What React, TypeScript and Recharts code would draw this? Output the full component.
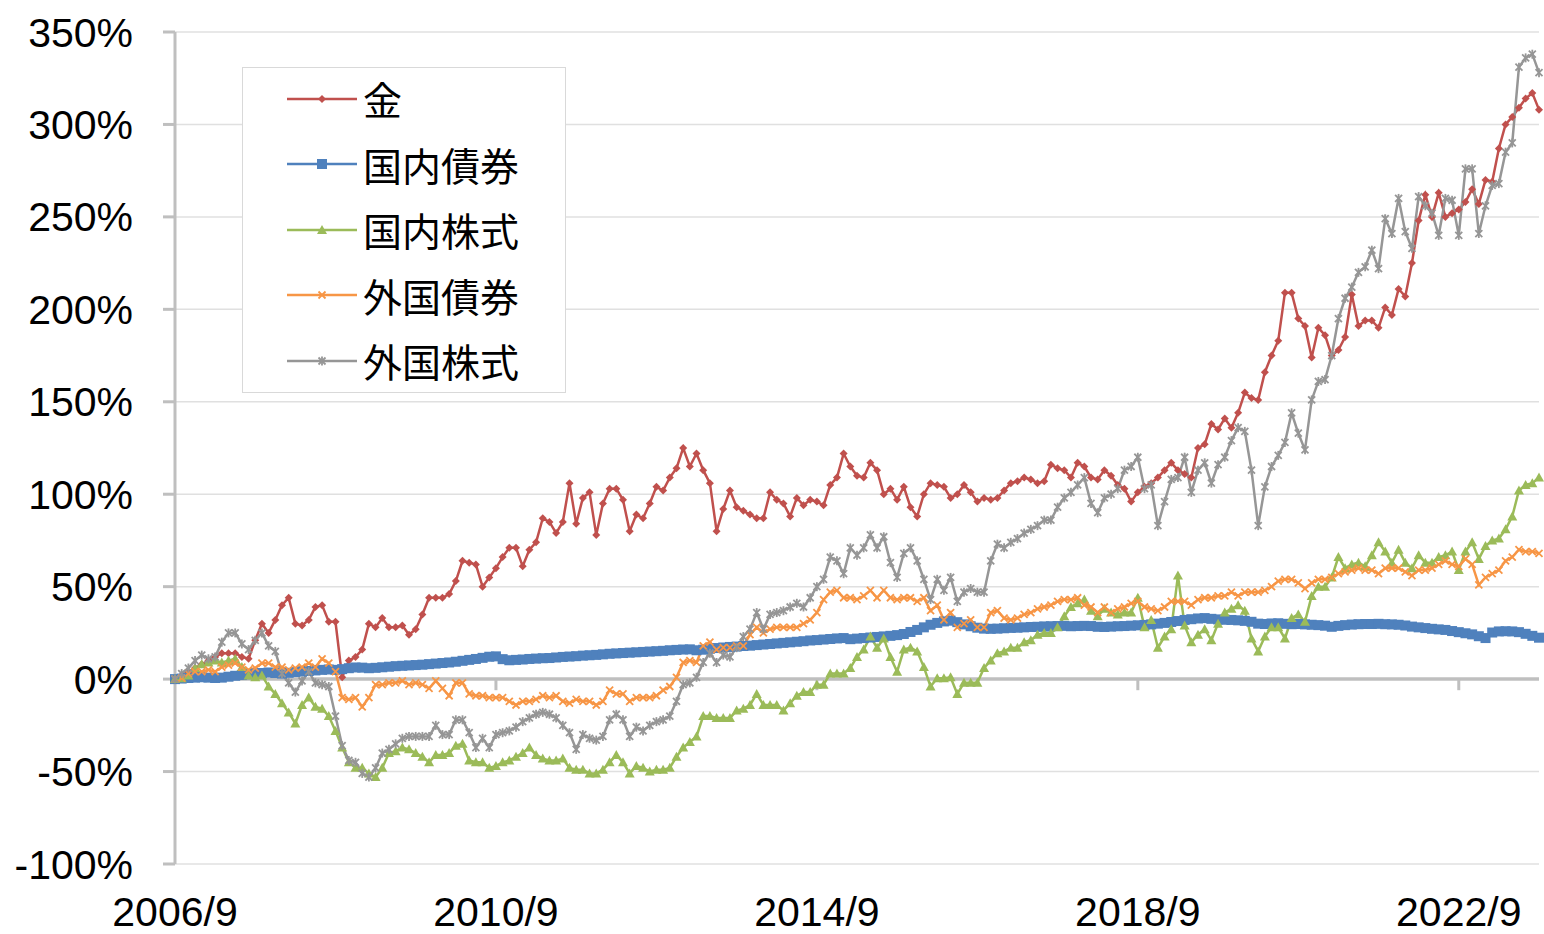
import React from "react";
import {
  LineChart,
  Line,
  XAxis,
  YAxis,
  CartesianGrid,
  ReferenceLine,
  Legend,
} from "recharts";

// monthly cumulative return (%), 2006/9 .. 2023/9, one row = Sep..Aug
const gold = [
  0, 2, 4, 6, 8, 10, 12, 14, 14, 14, 12, 11,
  21, 30, 25, 32, 40, 44, 30, 29, 32, 39, 40, 31,
  31, 1, 10, 12, 16, 30, 28, 33, 28, 28, 29, 24,
  27, 35, 44, 44, 44, 46, 53, 64, 63, 62, 50, 55,
  60, 66, 71, 71, 61, 70, 74, 87, 85, 79, 85, 106,
  84, 98, 101, 78, 95, 103, 103, 97, 80, 89, 87, 95,
  104, 102, 109, 114, 125, 115, 122, 113, 106, 80, 92, 102,
  93, 91, 89, 87, 87, 101, 97, 95, 88, 98, 94, 97,
  96, 94, 105, 109, 122, 115, 110, 109, 117, 113, 100, 103,
  97, 104, 93, 88, 100, 106, 105, 104, 98, 100, 105, 101,
  96, 98, 97, 98, 102, 106, 107, 109, 108, 106, 107, 116,
  114, 113, 109, 117, 115, 109, 108, 113, 110, 105, 103, 96,
  101, 104, 106, 109, 113, 117, 113, 111, 109, 125, 127, 138,
  135, 141, 136, 144, 155, 152, 151, 166, 175, 183, 209, 209,
  195, 191, 174, 190, 186, 175, 178, 185, 208, 191, 194, 194,
  190, 201, 197, 211, 207, 225, 248, 262, 250, 263, 250, 252,
  254, 258, 265, 257, 270, 269, 287, 300, 304, 309, 314, 317,
  308,
];

const jpBond = [
  0, 0.3, 0.6, 0.8, 1, 0.8, 0.6, 0.8, 1.3, 1.8, 2.2, 2.6,
  3, 3.3, 3.6, 3.3, 3, 3.4, 3.8, 4.1, 4.4, 4.7, 5, 5.2,
  5, 5.4, 5.9, 6.3, 6.2, 5.9, 6.1, 6.4, 6.7, 7, 7.2, 7.4,
  7.6, 7.8, 8.1, 8.4, 8.7, 9, 9.4, 9.9, 10.4, 10.9, 11.5, 12.1,
  12.3, 10.8, 10.2, 10.4, 10.6, 10.9, 11.1, 11.3, 11.4, 11.7, 12, 12.2,
  12.4, 12.7, 12.9, 13.1, 13.4, 13.7, 13.9, 14.1, 14.3, 14.5, 14.7, 14.9,
  15.1, 15.3, 15.6, 15.8, 16, 16.1, 15.6, 15.9, 16.4, 16.8, 17.1, 17.4,
  17.6, 17.9, 18.1, 18.4, 18.7, 19, 19.3, 19.6, 19.9, 20.2, 20.5, 20.9,
  21.1, 21.4, 21.7, 22, 22.2, 21.6, 21.9, 22.2, 22.5, 22.8, 23.1, 23.4,
  23.8, 24.4, 25.5, 26.6, 28, 29.4, 30.4, 31.2, 31.6, 30.8, 29.6, 28.6,
  27.8, 27.3, 27.2, 27.3, 27.5, 27.7, 27.8, 28, 28.2, 28.3, 28.5, 28.6,
  28.7, 28.8, 28.6, 28.7, 28.8, 28.7, 28.3, 28.2, 28.4, 28.6, 28.7, 28.9,
  29.1, 29.3, 29.6, 30, 30.4, 30.9, 31.4, 32, 32.4, 32.8, 33, 32.6,
  32.3, 32.1, 32, 31.8, 31.5, 31, 30, 29.8, 30.1, 30.2, 29.9, 29.7,
  29.8, 29.6, 29.4, 29.2, 28.9, 28.3, 28.8, 29.2, 29.5, 29.7, 29.8, 29.8,
  29.9, 29.7, 29.6, 29.4, 29, 28.4, 28, 27.6, 27.2, 26.9, 26.6, 26,
  25.4, 24.8, 24.2, 23.2, 22.2, 25.2, 25.8, 25.9, 25.8, 25.4, 24.5, 23.4,
  22.4,
];

const jpStock = [
  0, 0.5, 2, 6, 8, 9, 10, 9, 10, 11, 6.5, 2,
  1, 2, -4, -8, -13, -18, -24, -14, -10, -15, -16, -20,
  -28, -37, -45, -48, -48, -51, -53, -48, -40, -39, -37, -38,
  -40, -42, -45, -41, -41, -40, -36, -35, -44, -45, -45, -48,
  -47, -45, -44, -42, -40, -37, -41, -43, -44, -44, -43, -48,
  -49, -49, -51, -51, -49, -45, -41, -45, -51, -47, -48, -50,
  -49, -49, -48, -42, -37, -34, -31, -20, -20, -21, -21, -21,
  -17, -16, -14, -8, -14, -14, -14, -17, -13, -9, -7, -7,
  -3, -3, 3, 3, 3, 6, 12, 16, 23, 17, 22, 12,
  4, 16, 17, 15, 6.5, -4, 0.5, 0.5, 1, -8, -2, -2,
  -2, 6, 10, 14, 15, 17, 17, 20, 21, 24, 25, 25,
  28, 34, 39, 41, 43, 37, 34, 38, 36, 35, 36, 36,
  44, 28, 32, 17, 23, 27, 56, 29, 20, 24, 27, 21,
  30, 36, 38, 40, 37, 22, 15, 23, 28, 28, 22, 33,
  35, 31, 45, 50, 50, 55, 66, 60, 62, 63, 61, 67,
  74, 69, 63, 70, 63, 60, 67, 63, 63, 66, 67, 69,
  59, 69, 74, 65, 72, 75, 76, 81, 88, 102, 105, 106,
  109,
];

const fxBond = [
  0, 0.5, 3, 4, 4, 5, 4, 6.5, 7.6, 8.6, 6.5, 5,
  6, 8.6, 8.6, 6.5, 6.5, 5, 6, 6.5, 8.6, 6.5, 11, 8.6,
  4, -10, -11, -10, -15, -10, -3, -3, -2, -2, -1, -3,
  -2, -3, -5, -1, -5, -9, -2, -2, -8, -9, -9, -10,
  -10, -10, -12, -14, -12, -12, -11, -9, -10, -9, -12, -13,
  -11, -12, -12, -14, -12, -6, -8, -8, -12, -10, -10, -10,
  -9, -6, -4, 1, 9, 10, 9, 18, 20, 16, 17, 17,
  18, 18, 24, 28, 25, 27, 28, 28, 28, 28, 30, 32,
  36, 43, 47, 48, 44, 44, 43, 45, 48, 44, 48, 44,
  43, 44, 44, 42, 44, 37, 40, 32, 36, 28, 30, 32,
  28, 28, 36, 37, 33, 32, 33, 35, 36, 38, 39, 40,
  42, 43, 43, 44, 40, 39, 36, 39, 36, 38, 39, 41,
  42, 39, 38, 37, 39, 42, 42, 42, 40, 43, 44, 44,
  45, 45, 47, 45, 47, 47, 47, 48, 50, 53, 54, 54,
  52, 49, 52, 54, 54, 55, 57, 58, 59, 60, 59, 59,
  57, 60, 60, 60, 58, 56, 59, 59, 60, 62, 64, 62,
  61, 65, 62, 51, 55, 57, 59, 64, 66, 70, 69, 69,
  68,
];

const fxStock = [
  0, 3, 6, 10, 13, 11, 12, 20, 25, 25, 19, 16,
  21, 25, 18, 15, 3, -2, -7, -1, 4, -2, -3, -4,
  -20, -36, -44, -45, -51, -53, -48, -40, -38, -35, -32, -31,
  -31, -31, -31, -25, -30, -30, -22, -22, -29, -37, -32, -37,
  -30, -29, -28, -26, -23, -21, -19, -18, -19, -21, -25, -29,
  -38, -30, -32, -33, -31, -22, -19, -22, -31, -26, -28, -25,
  -23, -22, -20, -12, -3, -2, 1, 9, 14, 9, 13, 12,
  17, 23, 27, 36, 27, 35, 36, 37, 39, 41, 39, 44,
  50, 54, 66, 64, 57, 71, 67, 71, 78, 71, 77, 63,
  55, 68, 71, 64, 54, 43, 54, 48, 55, 42, 47, 49,
  47, 47, 64, 73, 71, 74, 76, 79, 81, 83, 86, 86,
  93, 98, 101, 105, 109, 95, 90, 98, 100, 103, 113, 115,
  120, 103, 105, 83, 96, 108, 109, 120, 101, 113, 117, 106,
  116, 120, 129, 136, 134, 113, 83, 104, 115, 121, 128, 144,
  133, 124, 151, 161, 162, 175, 195, 206, 212, 220, 223, 232,
  222, 249, 241, 260, 242, 233, 261, 256, 252, 240, 260, 259,
  240, 276, 276, 241, 256, 267, 268, 285, 290, 331, 336, 338,
  328,
];

const START_YEAR = 2006;
const START_MONTH = 9;
const xTicks = ["2006/9", "2010/9", "2014/9", "2018/9", "2022/9"];
const yTicks = [-100, -50, 0, 50, 100, 150, 200, 250, 300, 350];

const series = [
  { key: "gold", name: "金", color: "#C0504D", marker: "diamond", values: gold },
  { key: "jpBond", name: "国内債券", color: "#4F81BD", marker: "square", values: jpBond },
  { key: "jpStock", name: "国内株式", color: "#9BBB59", marker: "triangle", values: jpStock },
  { key: "fxBond", name: "外国債券", color: "#F79646", marker: "x", values: fxBond },
  { key: "fxStock", name: "外国株式", color: "#969696", marker: "star", values: fxStock },
];

const data = gold.map((_, i) => {
  const m = START_MONTH - 1 + i;
  const row: Record<string, any> = {
    month: `${START_YEAR + Math.floor(m / 12)}/${(m % 12) + 1}`,
  };
  series.forEach((s) => (row[s.key] = s.values[i]));
  return row;
});

const AXIS_GRAY = "#BFBFBF";
const LATIN = '"Liberation Sans", Arial, sans-serif';
const CJK = '"Noto Sans CJK JP", "Noto Sans CJK SC", sans-serif';

function Marker({ cx, cy, shape, color }: { cx: number; cy: number; shape: string; color: string }) {
  if (shape === "diamond")
    return (
      <polygon
        points={`${cx},${cy - 4} ${cx + 4},${cy} ${cx},${cy + 4} ${cx - 4},${cy}`}
        fill={color}
      />
    );
  if (shape === "square")
    return <rect x={cx - 5} y={cy - 5} width={10} height={10} fill={color} />;
  if (shape === "triangle")
    return (
      <polygon
        points={`${cx},${cy - 5} ${cx + 5},${cy + 4} ${cx - 5},${cy + 4}`}
        fill={color}
      />
    );
  const d = 3.5;
  return (
    <g stroke={color} strokeWidth={1.8}>
      <line x1={cx - d} y1={cy - d} x2={cx + d} y2={cy + d} />
      <line x1={cx - d} y1={cy + d} x2={cx + d} y2={cy - d} />
      {shape === "star" && <line x1={cx} y1={cy - 4.5} x2={cx} y2={cy + 4.5} />}
    </g>
  );
}

const makeDot = (shape: string, color: string) => (props: any) => {
  const { cx, cy, index } = props;
  if (cx == null || cy == null) return <g key={`d-${index}`} />;
  return <Marker key={`d-${index}`} cx={cx} cy={cy} shape={shape} color={color} />;
};

function LegendBox() {
  return (
    <div
      style={{
        width: 324,
        height: 326,
        border: "1.5px solid #D9D9D9",
        background: "#fff",
        boxSizing: "border-box",
      }}
    >
      <div style={{ marginTop: -2 }}>
        {series.map((s) => (
          <div key={s.key} style={{ display: "flex", alignItems: "center", height: 65.5 }}>
            <svg width={70} height={20} style={{ marginLeft: 44, display: "block" }}>
              <line x1={0} y1={10} x2={70} y2={10} stroke={s.color} strokeWidth={2.5} />
              <Marker cx={35} cy={10} shape={s.marker} color={s.color} />
            </svg>
            <span
              style={{
                marginLeft: 6,
                fontFamily: CJK,
                fontSize: 39,
                lineHeight: 1,
                color: "#000",
              }}
            >
              {s.name}
            </span>
          </div>
        ))}
      </div>
    </div>
  );
}

export default function App() {
  return (
    <div style={{ position: "fixed", left: 0, top: 0, width: 1544, height: 934, background: "#fff" }}>
      <LineChart
        width={1544}
        height={934}
        data={data}
        margin={{ top: 32, right: 5, bottom: 0, left: 0 }}
      >
        <CartesianGrid vertical={false} stroke="#E0E0E0" strokeWidth={1.5} />
        <XAxis
          dataKey="month"
          ticks={xTicks}
          interval={0}
          axisLine={false}
          tickLine={false}
          tickSize={0}
          tickMargin={33}
          height={70}
          tick={{ fill: "#000", fontSize: 41, fontFamily: LATIN }}
        />
        <YAxis
          width={175}
          domain={[-100, 350]}
          ticks={yTicks}
          interval={0}
          tickFormatter={(v) => `${v}%`}
          axisLine={{ stroke: AXIS_GRAY, strokeWidth: 3 }}
          tickLine={{ stroke: AXIS_GRAY, strokeWidth: 3 }}
          tickSize={12}
          tickMargin={30}
          tick={{ fill: "#000", fontSize: 41, fontFamily: LATIN }}
        />
        <ReferenceLine y={0} stroke={AXIS_GRAY} strokeWidth={3.5} />
        {xTicks.slice(1).map((t) => (
          <ReferenceLine
            key={`tick-${t}`}
            segment={[
              { x: t, y: 0 },
              { x: t, y: -6 },
            ]}
            stroke={AXIS_GRAY}
            strokeWidth={3}
          />
        ))}
        <Legend
          layout="vertical"
          align="center"
          verticalAlign="middle"
          wrapperStyle={{ left: 242, top: 67, width: 324, height: 326, margin: 0 }}
          content={() => <LegendBox />}
        />
        {series.map((s) => (
          <Line
            key={s.key}
            type="linear"
            dataKey={s.key}
            name={s.name}
            stroke={s.color}
            strokeWidth={2.5}
            dot={makeDot(s.marker, s.color)}
            activeDot={false}
            isAnimationActive={false}
          />
        ))}
      </LineChart>
    </div>
  );
}
